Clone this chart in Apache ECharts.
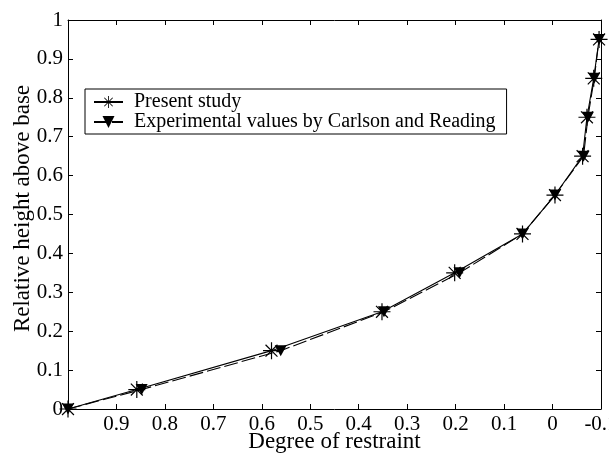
<!DOCTYPE html>
<html>
<head>
<meta charset="utf-8">
<script src="https://cdn.jsdelivr.net/npm/echarts@6/dist/echarts.min.js"></script>
<style>
  html, body { margin: 0; padding: 0; background: #fff; width: 609px; height: 455px; overflow: hidden; }
  #chart { width: 609px; height: 455px; }
</style>
</head>
<body>
<div id="chart"></div>
<script>
// Relative height above base (shared by both curves)
const heights = [0, 0.05, 0.15, 0.25, 0.35, 0.45, 0.55, 0.65, 0.75, 0.85, 0.95];
// Degree of restraint at each height
const presentStudy = [1.0, 0.858, 0.58, 0.352, 0.202, 0.062, -0.005, -0.062, -0.071, -0.085, -0.096];
const carlsonReading = [1.0, 0.848, 0.561, 0.348, 0.192, 0.062, -0.005, -0.064, -0.073, -0.086, -0.096];
const seriesNames = ['Present study', 'Experimental values by Carlson and Reading'];

// Asterisk marker: vertical, horizontal and two diagonal bars
const asterisk = 'path://M46.5,0 L53.5,0 L53.5,100 L46.5,100 Z ' +
  'M0,46.5 L100,46.5 L100,53.5 L0,53.5 Z ' +
  'M12.5,17.5 L17.5,12.5 L87.5,82.5 L82.5,87.5 Z ' +
  'M82.5,12.5 L87.5,17.5 L17.5,87.5 L12.5,82.5 Z';
const triDown = 'path://M0,0 L100,0 L50,100 Z';

const FONT = 'Liberation Serif';

const toPairs = (xs) => xs.map((x, i) => [x, heights[i]]);
const fmt = (v) => String(Math.round(v * 10) / 10);

const chart = echarts.init(document.getElementById('chart'), null, {
  renderer: 'canvas', width: 609, height: 455
});

const axisLine = { show: true, onZero: false, lineStyle: { color: '#000', width: 1 } };
const tickIn = { show: true, inside: true, length: 5, lineStyle: { color: '#000', width: 1 } };

chart.setOption({
  backgroundColor: '#fff',
  animation: false,
  grid: { left: 68, right: 8, top: 20, bottom: 46, containLabel: false, outerBoundsMode: 'none' },
  legend: {
    orient: 'vertical',
    left: 85,
    top: 89,
    padding: [3, 11, 2, 8],
    itemGap: 0,
    itemWidth: 29,
    itemHeight: 15,
    borderColor: '#000',
    borderWidth: 1,
    backgroundColor: '#fff',
    textStyle: { fontFamily: FONT, fontSize: 20, color: '#000', lineHeight: 18, padding: [0, 0, 0, 6] },
    data: seriesNames
  },
  xAxis: [
    {
      type: 'value', inverse: true, min: -0.1, max: 1, interval: 0.1,
      name: 'Degree of restraint', nameLocation: 'middle', nameGap: 21, nameMoveOverlap: false,
      nameTextStyle: { fontFamily: FONT, fontSize: 23, color: '#000' },
      axisLine: axisLine, axisTick: tickIn, splitLine: { show: false },
      axisLabel: {
        fontFamily: FONT, fontSize: 21, color: '#000', margin: 5,
        formatter: (v) => (Math.abs(v - 1) < 1e-9 ? '' : fmt(v))
      }
    },
    {
      type: 'value', inverse: true, min: -0.1, max: 1, interval: 0.1, position: 'top',
      axisLine: axisLine, axisTick: tickIn, axisLabel: { show: false }, splitLine: { show: false }
    }
  ],
  yAxis: [
    {
      type: 'value', min: 0, max: 1, interval: 0.1,
      name: 'Relative height above base', nameLocation: 'middle', nameGap: 34, nameMoveOverlap: false,
      nameTextStyle: { fontFamily: FONT, fontSize: 23, color: '#000', padding: [0, 0, 0, 12] },
      axisLine: axisLine, axisTick: tickIn, splitLine: { show: false },
      axisLabel: { fontFamily: FONT, fontSize: 21, color: '#000', margin: 5, formatter: fmt }
    },
    {
      type: 'value', min: 0, max: 1, interval: 0.1, position: 'right',
      axisLine: axisLine, axisTick: tickIn, axisLabel: { show: false }, splitLine: { show: false }
    }
  ],
  series: [
    {
      name: seriesNames[0], type: 'line', data: toPairs(presentStudy),
      symbol: asterisk, symbolSize: 17, showAllSymbol: true,
      itemStyle: { color: '#000' },
      lineStyle: { color: '#000', width: 1.1, type: 'solid' },
      z: 3
    },
    {
      name: seriesNames[1], type: 'line', data: toPairs(carlsonReading),
      symbol: triDown, symbolSize: [12, 11], showAllSymbol: true,
      itemStyle: { color: '#000' },
      lineStyle: { color: '#000', width: 1.1, type: [14, 4] },
      z: 2
    }
  ]
});
</script>
</body>
</html>
